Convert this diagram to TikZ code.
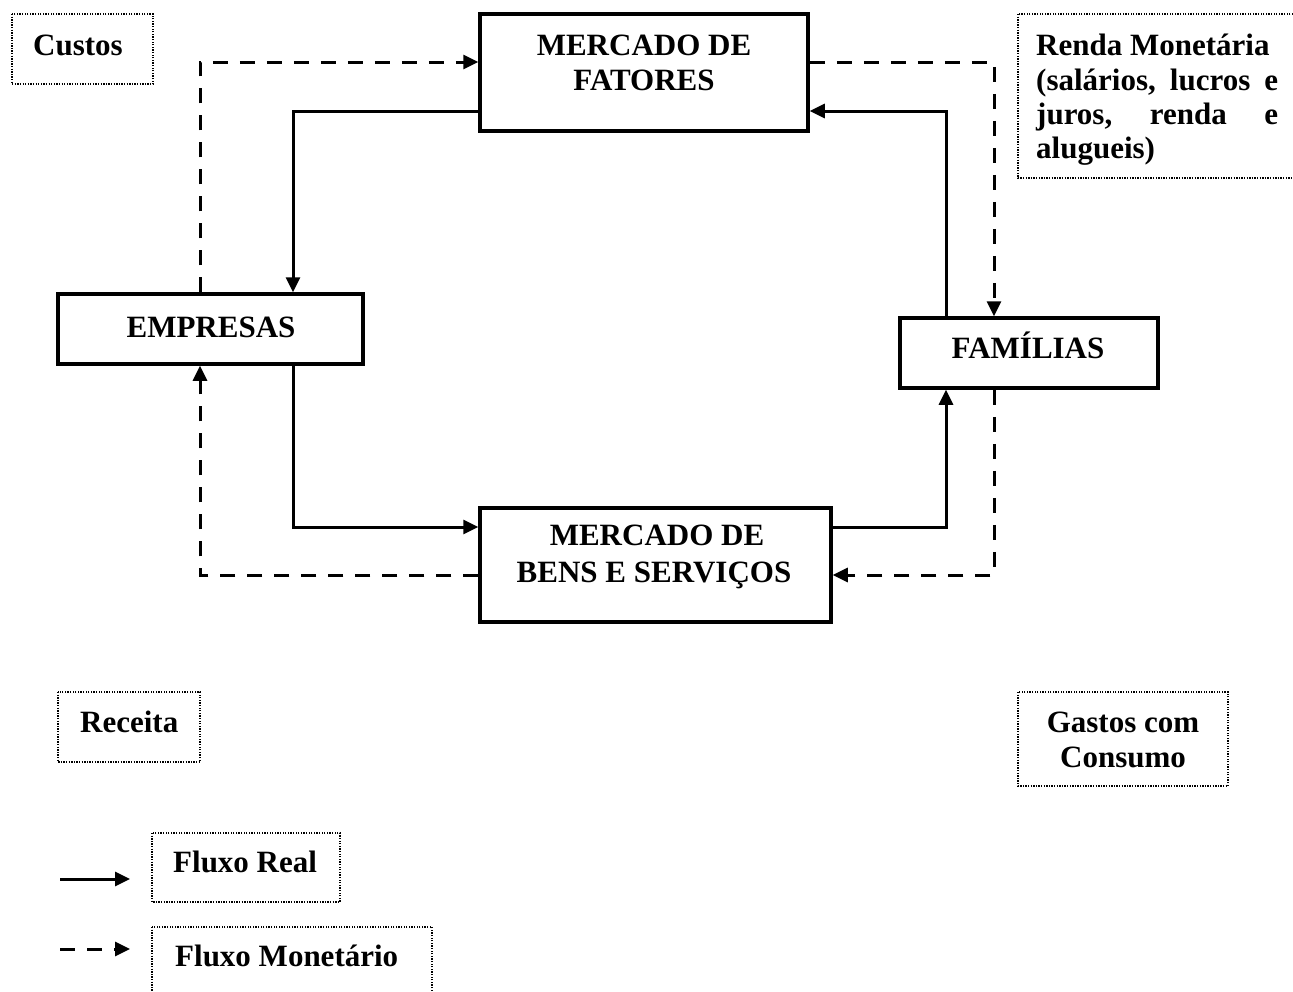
\documentclass[tikz,border=0pt]{standalone}
\usepackage{fontspec}
\setmainfont{Liberation Serif}
\usetikzlibrary{arrows.meta,calc}
\begin{document}
\begin{tikzpicture}[x=1pt,y=-1pt,
  box/.style={draw, line width=3.5pt, inner sep=0pt},
  tbox/.style={draw, line width=1.3pt, dash pattern=on 1.3pt off 1.3pt},
  lbl/.style={font=\bfseries\fontsize{31}{35}\selectfont, inner sep=0pt, anchor=base},
  lblw/.style={lbl, anchor=base west},
  real/.style={line width=3pt, -{Triangle[length=15pt,width=14pt]}},
  money/.style={line width=3pt, dash pattern=on 15pt off 12pt, -{Triangle[length=15pt,width=14pt]}}]
\path[use as bounding box, clip] (0,0) rectangle (1293,991);
\fill[white] (0,0) rectangle (1293,991);
% main boxes
\node[box, minimum width=328pt, minimum height=117pt] (fat) at (644,72.5) {};
\node[box, minimum width=305pt, minimum height=70pt] (emp) at (210.5,329) {};
\node[box, minimum width=258pt, minimum height=70pt] (fam) at (1029,353) {};
\node[box, minimum width=351pt, minimum height=114pt] (bens) at (655.5,565) {};
% box texts
\node[lbl] (fat1) at (644,55) {MERCADO DE};
\node[lbl] (fat2) at (644,90) {FATORES};
\node[lbl] (empt) at (211,337) {EMPRESAS};
\node[lbl] (famt) at (1028,358) {FAMÍLIAS};
\node[lbl] (bens1) at (657,545) {MERCADO DE};
\node[lbl] (bens2) at (654,582) {BENS E SERVIÇOS};
% real flows
\draw[real] (fat.west |- 0,111) -| (emp.north -| 293,0);
\draw[real] (emp.south -| 293,0) |- (bens.west |- 0,527);
\draw[real] (bens.east |- 0,527) -| (fam.south -| 946,0);
\draw[real] (fam.north -| 946,0) |- (fat.east |- 0,111);
% monetary flows
\draw[money] (emp.north -| 200,0) |- (fat.west |- 0,62);
\draw[money] (fat.east |- 0,62) -| (fam.north -| 994,0);
\draw[money] (fam.south -| 994,0) |- (bens.east |- 0,575);
\draw[money] (bens.west |- 0,575) -| (emp.south -| 200,0);
% dotted text boxes
\draw[tbox] (12,14) rectangle (153,84);
\draw[tbox] (1018,14) rectangle (1310,178);
\draw[tbox] (58,692) rectangle (200,762);
\draw[tbox] (1018,692) rectangle (1228,786);
\draw[tbox] (152,833) rectangle (340,902);
\draw[tbox] (152,927) rectangle (432,1010);
% labels
\node[lblw] (custos) at (33,55) {Custos};
\node[lblw] (renda1) at (1036,55) {Renda Monetária};
\node[lblw] (renda2) at (1036,90) {\hbox to 242pt{(salários,\hfill lucros\hfill e}};
\node[lblw] (renda3) at (1036,124) {\hbox to 242pt{juros,\hfill renda\hfill e}};
\node[lblw] (renda4) at (1036,158) {alugueis)};
\node[lblw] (receita) at (80,732) {Receita};
\node[lbl] (gastos1) at (1123,732) {Gastos com};
\node[lbl] (gastos2) at (1123,767) {Consumo};
\node[lblw] (freal) at (173,872) {Fluxo Real};
\node[lblw] (fmon) at (175,966) {Fluxo Monetário};
% legend arrows
\coordinate (r1) at (60,879);
\coordinate (r2) at (130,879);
\coordinate (m1) at (60,949);
\coordinate (m2) at (130,949);
\draw[real] (r1) -- (r2);
\draw[money] (m1) -- (m2);
\end{tikzpicture}
\end{document}
